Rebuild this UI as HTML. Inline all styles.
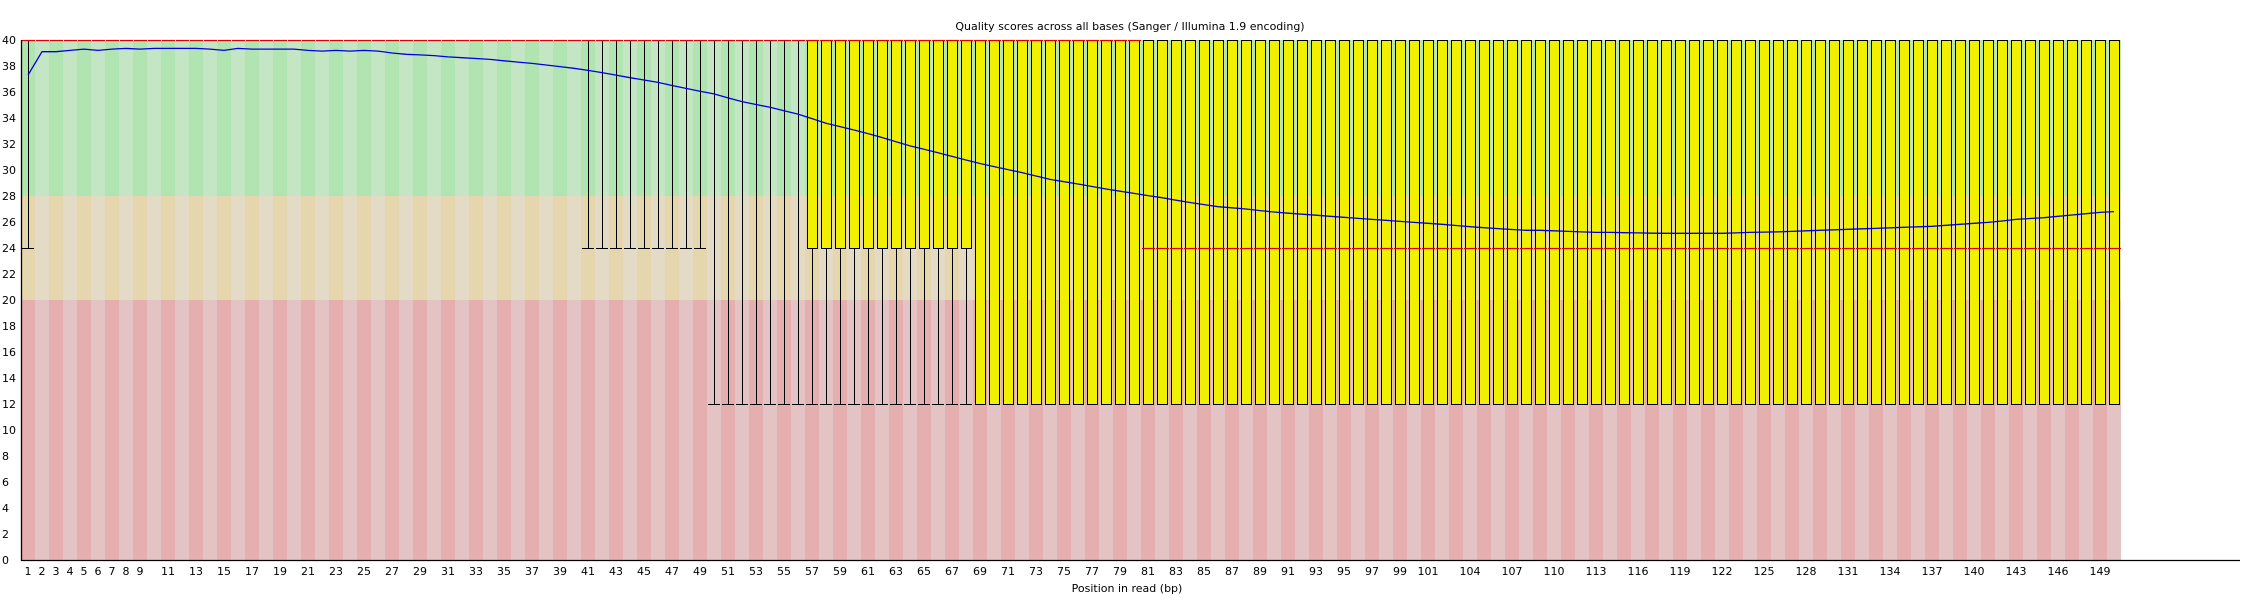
<!DOCTYPE html>
<html><head><meta charset="utf-8"><style>
html,body{margin:0;padding:0;background:#fff;}
svg{display:block;}
text{font-family:"DejaVu Sans","Liberation Sans",sans-serif;font-size:11px;fill:#000;}
</style></head><body>
<svg id="chart" width="2250" height="600" xmlns="http://www.w3.org/2000/svg">
<text x="1130" y="30" text-anchor="middle">Quality scores across all bases (Sanger / Illumina 1.9 encoding)</text>
<text x="1127" y="592" text-anchor="middle">Position in read (bp)</text>
</svg>
<script>
const positions = Array.from({length:150},(_,i)=>i+1);
const means = [37.3,39.1,39.1,39.2,39.3,39.2,39.3,39.35,39.3,39.35,39.35,39.35,39.35,39.3,39.2,39.35,39.3,39.3,39.3,39.3,39.2,39.15,39.2,39.15,39.2,39.15,39.0,38.9,38.85,38.8,38.7,38.64,38.58,38.51,38.4,38.3,38.2,38.08,37.95,37.82,37.66,37.49,37.3,37.1,36.92,36.74,36.5,36.28,36.06,35.85,35.55,35.26,35.04,34.82,34.56,34.3,33.95,33.6,33.34,33.08,32.8,32.5,32.18,31.85,31.6,31.33,31.05,30.77,30.5,30.26,30.03,29.8,29.54,29.28,29.1,28.92,28.73,28.54,28.37,28.2,28.03,27.87,27.68,27.5,27.34,27.18,27.09,27.0,26.88,26.77,26.68,26.6,26.52,26.44,26.36,26.28,26.2,26.13,26.05,25.97,25.9,25.82,25.73,25.64,25.56,25.49,25.42,25.36,25.36,25.32,25.28,25.24,25.2,25.2,25.18,25.16,25.14,25.13,25.13,25.13,25.13,25.13,25.16,25.2,25.22,25.25,25.28,25.32,25.36,25.4,25.44,25.48,25.51,25.55,25.59,25.63,25.67,25.75,25.82,25.9,25.97,26.08,26.2,26.27,26.33,26.44,26.54,26.64,26.74,26.8];
const medians = positions.map(p=>p<=80?40:24);
const q1 = positions.map(p=>p<=56?40:(p<=68?24:12));
const q3 = positions.map(p=>40);
const whiskLow = positions.map(p=>p===1?24:(p<=40?40:(p<=49?24:12)));
const whiskHigh = positions.map(p=>40);
const yTicks = [0,2,4,6,8,10,12,14,16,18,20,22,24,26,28,30,32,34,36,38,40];
const xTickLabels = [1,2,3,4,5,6,7,8,9,11,13,15,17,19,21,23,25,27,29,31,33,35,37,39,41,43,45,47,49,51,53,55,57,59,61,63,65,67,69,71,73,75,77,79,81,83,85,87,89,91,93,95,97,99,101,104,107,110,113,116,119,122,125,128,131,134,137,140,143,146,149];

const NS="http://www.w3.org/2000/svg";
const svg=document.getElementById('chart');
const X0=21, CW=14, YT=40, YB=560;
const xL = p => X0+(p-1)*CW;
const xC = p => xL(p)+CW/2;
const y = v => YB-(v/40)*(YB-YT);
function mk(tag,attrs,parent){const e=document.createElementNS(NS,tag);for(const k in attrs)e.setAttribute(k,attrs[k]);(parent||svg).appendChild(e);return e;}

const bg=mk('g',{});


const zones=[[28,40,'#b0e4b0','#c4e6c4'],[20,28,'#e6d6ae','#e4dbc6'],[0,20,'#e5afaf','#e3c3c3']];
positions.forEach((p,i)=>{
  zones.forEach(z=>{
    const r=mk('rect',{x:xL(p),y:y(z[1]),width:CW,height:y(z[0])-y(z[1]),fill:i%2===0?z[2]:z[3]},bg);
    
    
  });
});

const boxes=mk('g',{});


positions.forEach((p,i)=>{
  const g=mk('g',{},boxes);
  
  
  const cx=xC(p)+0.5;
  if(whiskLow[i]<q1[i]){
    mk('line',{x1:cx,x2:cx,y1:y(whiskLow[i]),y2:y(q1[i]),stroke:'#000','stroke-width':1},g);
    mk('line',{x1:xL(p)+1,x2:xL(p)+13,y1:y(whiskLow[i])+0.5,y2:y(whiskLow[i])+0.5,stroke:'#000','stroke-width':1},g);
  }
  if(whiskHigh[i]>q3[i]){
    mk('line',{x1:cx,x2:cx,y1:y(whiskHigh[i]),y2:y(q3[i]),stroke:'#000','stroke-width':1},g);
  }
  if(q3[i]>q1[i]){
    mk('rect',{x:xL(p)+2.5,y:y(q3[i])+0.5,width:10,height:y(q1[i])-y(q3[i]),fill:'#f0f000',stroke:'#000','stroke-width':1},g);
  }
  mk('line',{x1:xL(p)+1,x2:xL(p)+14,y1:y(medians[i])+0.5,y2:y(medians[i])+0.5,stroke:'#dd0000','stroke-width':1.2},g);
});

const pts=positions.map((p,i)=>xC(p)+','+y(means[i]).toFixed(1)).join(' ');
const ml=mk('polyline',{points:pts,fill:'none',stroke:'#0000e0','stroke-width':1.3});



const ax=mk('line',{x1:X0+0.5,x2:X0+0.5,y1:YT,y2:YB+1,stroke:'#000','stroke-width':1.3});


const xa=mk('line',{x1:X0,x2:2240,y1:YB+0.5,y2:YB+0.5,stroke:'#000','stroke-width':1.3});



yTicks.forEach(v=>{
  const t=mk('text',{x:2,y:y(v)+4});
  t.textContent=v;
  
  
});
xTickLabels.forEach(p=>{
  const t=mk('text',{x:xC(p),y:575,'text-anchor':'middle'});
  t.textContent=p;
  
  
});
</script>
</body></html>
